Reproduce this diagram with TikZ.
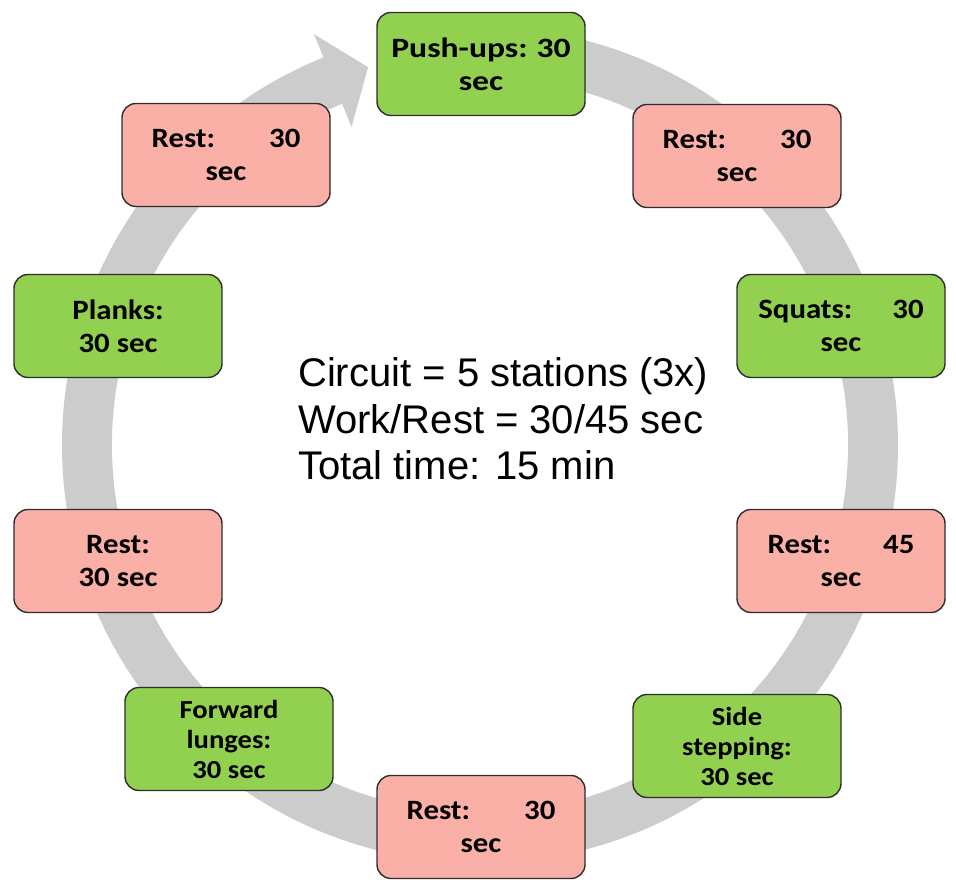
\documentclass[tikz,border=0pt]{standalone}
\usepackage{fontspec}
\setmainfont{Carlito}
\newfontfamily\boxfont[FakeStretch=1.1]{Carlito}
\newfontfamily\wideboxfont[FakeStretch=1.2]{Carlito}
\newfontfamily\plainfont{Liberation Sans}
\usetikzlibrary{positioning}

\definecolor{workgreen}{RGB}{146,208,80}
\definecolor{restpink}{RGB}{250,176,166}
\definecolor{ringgray}{RGB}{204,204,204}
\definecolor{boxedge}{RGB}{45,45,45}

\tikzset{
  station/.style={draw=boxedge, line width=1.4pt, rounded corners=14pt,
    minimum width=208pt, minimum height=103pt, inner sep=0pt, align=center,
    font=\boxfont\bfseries\fontsize{28}{33}\selectfont},
  work/.style={station, fill=workgreen},
  rest/.style={station, fill=restpink},
  threeline/.style={font=\boxfont\bfseries\fontsize{26}{30}\selectfont},
  widetext/.style={font=\wideboxfont\bfseries\fontsize{28}{33}\selectfont}
}

\begin{document}
\begin{tikzpicture}[x=1pt,y=1pt]
\useasboundingbox (0,0) rectangle (956,888);

% Define the centre of the circuit and the station places
\coordinate (C) at (480,443);
\coordinate (S1) at (481,824);
\coordinate (S2) at (737,732);
\coordinate (S3) at (841,562);
\coordinate (S4) at (841,327);
\coordinate (S5) at (737,142);
\coordinate (S6) at (481,61);
\coordinate (S7) at (229,149);
\coordinate (S8) at (118,327);
\coordinate (S9) at (118,562);
\coordinate (S10) at (226,733);

% Draw the grey circular arrow
\begin{scope}[shift={(C)}]
\fill[ringgray] (90:418) arc[start angle=90, end angle=-248, radius=418]
  -- (-248:443) -- (-253.5:394) -- (-248:343) -- (-248:368)
  arc[start angle=-248, end angle=90, radius=368] -- cycle;
\end{scope}

% Draw the stations
\node[work, widetext] (pushups) at (S1) {Push-ups:\hspace{9pt}30\\sec};
\node[rest] (restA) at (S2) {Rest:\hspace{54pt}30\\sec};
\node[work] (squats) at (S3) {Squats:\hspace{40pt}30\\sec};
\node[rest] (restB) at (S4) {Rest:\hspace{52pt}45\\sec};
\node[work, threeline] (sidestep) at (S5) {Side\\stepping:\\30 sec};
\node[rest] (restC) at (S6) {Rest:\hspace{54pt}30\\sec};
\node[work, threeline] (lunges) at (S7) {Forward\\lunges:\\30 sec};
\node[rest] (restD) at (S8) {Rest:\\30 sec};
\node[work] (planks) at (S9) {Planks:\\30 sec};
\node[rest] (restE) at (S10) {Rest:\hspace{54pt}30\\sec};

% Summary in the middle
\node[anchor=west, align=left, inner sep=0pt,
  font=\plainfont\fontsize{40}{46.5}\selectfont] (summary) at (298,469)
  {Circuit = 5 stations (3x)\\Work/Rest = 30/45 sec\\Total time: 15 min};
\end{tikzpicture}
\end{document}
